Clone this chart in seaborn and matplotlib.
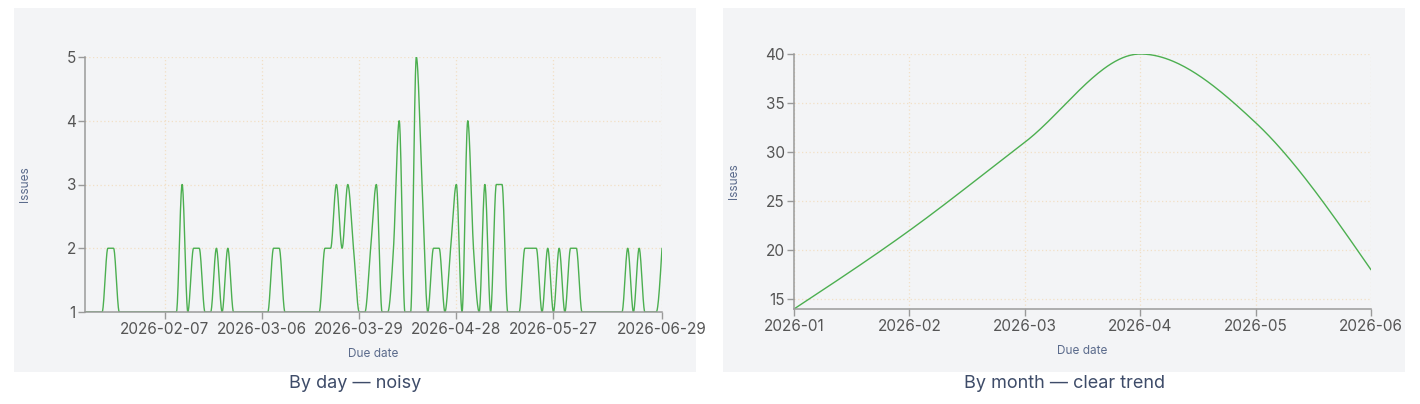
import numpy as np
import matplotlib
matplotlib.use("Agg")
import matplotlib.pyplot as plt
import seaborn as sns
from matplotlib.patches import Rectangle

# daily due dates (only days that have issues)
day_dates = [
    "2026-01-16", "2026-01-17", "2026-01-19", "2026-01-20", "2026-01-22", "2026-01-23", "2026-01-25",
    "2026-01-26", "2026-01-28", "2026-01-29", "2026-01-31", "2026-02-01", "2026-02-03", "2026-02-05",
    "2026-02-07", "2026-02-09", "2026-02-10", "2026-02-12", "2026-02-14", "2026-02-15", "2026-02-17",
    "2026-02-18", "2026-02-20", "2026-02-22", "2026-02-23", "2026-02-25", "2026-02-26", "2026-02-28",
    "2026-03-02", "2026-03-03", "2026-03-05",
    "2026-03-06", "2026-03-07", "2026-03-08", "2026-03-10", "2026-03-11", "2026-03-12", "2026-03-14",
    "2026-03-15", "2026-03-16", "2026-03-18", "2026-03-19", "2026-03-20", "2026-03-22", "2026-03-23",
    "2026-03-24", "2026-03-26", "2026-03-27",
    "2026-03-29", "2026-03-31", "2026-04-02", "2026-04-03", "2026-04-05", "2026-04-07", "2026-04-09",
    "2026-04-10", "2026-04-12", "2026-04-14", "2026-04-16", "2026-04-17", "2026-04-19", "2026-04-21",
    "2026-04-23", "2026-04-24", "2026-04-26",
    "2026-04-28", "2026-04-30", "2026-05-01", "2026-05-03", "2026-05-05", "2026-05-07", "2026-05-08",
    "2026-05-10", "2026-05-12", "2026-05-14", "2026-05-15", "2026-05-17", "2026-05-19", "2026-05-20",
    "2026-05-22", "2026-05-24", "2026-05-25",
    "2026-05-27", "2026-05-29", "2026-05-31", "2026-06-01", "2026-06-03", "2026-06-05", "2026-06-07",
    "2026-06-08", "2026-06-10", "2026-06-12", "2026-06-14", "2026-06-15", "2026-06-17", "2026-06-19",
    "2026-06-21", "2026-06-22", "2026-06-24", "2026-06-26", "2026-06-27", "2026-06-29",
]
day_issues = [
    1, 1, 1, 1, 2, 2, 1, 1, 1, 1, 1, 1, 1, 1,
    1, 1, 1, 3, 1, 2, 2, 1, 1, 2, 1, 2, 1, 1, 1, 1, 1,
    1, 1, 2, 2, 1, 1, 1, 1, 1, 1, 1, 2, 2, 3, 2, 3, 2,
    1, 1, 2, 3, 1, 1, 2, 4, 1, 1, 5, 3, 1, 2, 2, 1, 2,
    3, 1, 4, 2, 1, 3, 1, 3, 3, 1, 1, 1, 2, 2, 2, 1, 2,
    1, 2, 1, 2, 2, 1, 1, 1, 1, 1, 1, 1, 1, 2, 1, 2, 1, 1, 1, 2,
]

month_labels = ["2026-01", "2026-02", "2026-03", "2026-04", "2026-05", "2026-06"]
month_issues = [14, 22, 31, 40, 33, 18]

GREEN = "#4caf50"
PANEL = "#f3f4f6"
GRID = "#f2dfc6"
AXIS = "#9a9a9a"
TICK_TXT = "#555555"
LABEL_TXT = "#5b6b8c"
TITLE_TXT = "#3e4c69"


def monotone(y, per=24):
    # monotone cubic curve (same idea as d3 curveMonotoneX), for drawing only
    y = np.asarray(y, float)
    x = np.arange(len(y), dtype=float)
    s = np.diff(y)
    m = np.zeros_like(y)
    for i in range(1, len(y) - 1):
        if s[i - 1] * s[i] > 0:
            p = (s[i - 1] + s[i]) / 2
            m[i] = np.sign(p) * min(2 * abs(s[i - 1]), 2 * abs(s[i]), abs(p))
    m[0] = (3 * s[0] - m[1]) / 2
    m[-1] = (3 * s[-1] - m[-2]) / 2
    t = np.linspace(0, 1, per, endpoint=False)
    h00 = 2 * t**3 - 3 * t**2 + 1
    h10 = t**3 - 2 * t**2 + t
    h01 = -2 * t**3 + 3 * t**2
    h11 = t**3 - t**2
    xs, ys = [], []
    for i in range(len(y) - 1):
        xs.append(x[i] + t)
        ys.append(h00 * y[i] + h10 * m[i] + h01 * y[i + 1] + h11 * m[i + 1])
    xs.append([x[-1]])
    ys.append([y[-1]])
    return np.concatenate(xs), np.concatenate(ys)


sns.set_theme(style="ticks")
plt.rcParams["font.family"] = ["Inter", "DejaVu Sans"]

W, H = 1420, 404
fig = plt.figure(figsize=(W / 100, H / 100), dpi=100)
fig.patch.set_facecolor("white")

# panel backgrounds
for px in (14, 723):
    fig.add_artist(Rectangle((px / W, 32 / H), 682 / W, 364 / H, transform=fig.transFigure,
                             facecolor=PANEL, edgecolor="none", zorder=0))


def style_axes(ax, yticks):
    ax.set_facecolor(PANEL)
    for side in ("top", "right"):
        ax.spines[side].set_visible(False)
    for side in ("left", "bottom"):
        ax.spines[side].set_color(AXIS)
        ax.spines[side].set_linewidth(1.1)
    ax.set_yticks(yticks)
    ax.tick_params(axis="both", colors=AXIS, labelcolor=TICK_TXT, labelsize=11, length=5, width=1)
    ax.tick_params(axis="y", pad=1.5)
    ax.tick_params(axis="x", pad=2)
    ax.grid(True, color=GRID, linestyle=(0, (1, 2)), linewidth=0.9)
    ax.set_axisbelow(True)
    ax.set_xlabel("Due date", color=LABEL_TXT, fontsize=8.5, va="center")
    ax.set_ylabel("Issues", color=LABEL_TXT, fontsize=8.5, va="center")
    ax.xaxis.set_label_coords(0.5, -0.165)
    ax.yaxis.set_label_coords(-0.104, 0.5)


# left: by day
ax1 = fig.add_axes([85 / W, 92 / H, 577 / W, 255 / H])
xd, yd = monotone(day_issues)
sns.lineplot(x=xd, y=yd, ax=ax1, color=GREEN, linewidth=1, estimator=None, sort=False)
n = len(day_dates)
tick_idx = [i for i in range(14, n, 17) if n - 1 - i >= 17] + [n - 1]
ax1.set_xticks(tick_idx)
ax1.set_xticklabels([day_dates[i] for i in tick_idx])
ax1.set_xlim(0, n - 1)
ax1.set_ylim(min(day_issues), max(day_issues))
style_axes(ax1, [1, 2, 3, 4, 5])

# right: by month
ax2 = fig.add_axes([794 / W, 95 / H, 577 / W, 255 / H])
xm, ym = monotone(month_issues, per=60)
sns.lineplot(x=xm, y=ym, ax=ax2, color=GREEN, linewidth=1, estimator=None, sort=False)
ax2.set_xticks(range(len(month_labels)))
ax2.set_xticklabels(month_labels)
ax2.set_xlim(0, len(month_labels) - 1)
ax2.set_ylim(min(month_issues), max(month_issues))
style_axes(ax2, [15, 20, 25, 30, 35, 40])

fig.text(355 / W, 1 - 383 / H, "By day \u2014 noisy", ha="center", va="center",
         fontsize=13, color=TITLE_TXT)
fig.text(1064 / W, 1 - 383 / H, "By month \u2014 clear trend", ha="center", va="center",
         fontsize=13, color=TITLE_TXT)

fig.savefig("out.png", dpi=100)
